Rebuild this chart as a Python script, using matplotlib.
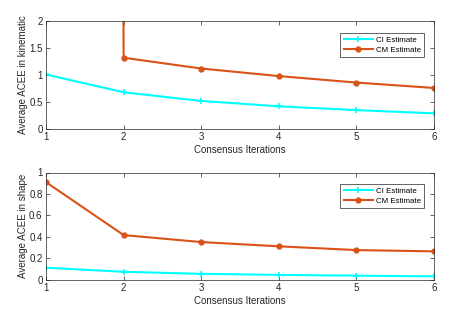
import numpy as np
import matplotlib
matplotlib.use('Agg')
import matplotlib.pyplot as plt

plt.rcParams['font.family'] = ['Liberation Sans', 'DejaVu Sans']
plt.rcParams['font.size'] = 7

iters = [1, 2, 3, 4, 5, 6]

# kinematic
ci_kin = [1.01, 0.68, 0.52, 0.42, 0.35, 0.29]
cm_kin = [500.0, 1.32, 1.12, 0.98, 0.86, 0.76]

# shape
ci_shape = [0.11, 0.072, 0.053, 0.043, 0.036, 0.029]
cm_shape = [0.91, 0.415, 0.35, 0.31, 0.275, 0.263]

cyan = (0, 1, 1)
orange = (0.85, 0.325, 0.098)

fig = plt.figure(figsize=(4.57, 3.19), dpi=100)
ax1 = fig.add_axes([46/457, 1 - 129/319, 388/457, 108/319])
ax2 = fig.add_axes([46/457, 1 - 279.5/319, 388/457, 107/319])

def style(ax, ylim, yticks, ylabel):
    ax.set_xlim(1, 6)
    ax.set_ylim(*ylim)
    ax.set_xticks(iters)
    ax.set_yticks(yticks)
    ax.set_yticklabels([('%g' % v) for v in yticks])
    ax.tick_params(direction='in', length=3, width=0.5, colors='#262626',
                   labelcolor='#262626', top=True, right=True, pad=2.5)
    for s in ax.spines.values():
        s.set_linewidth(0.5)
        s.set_color('#262626')
    ax.set_xlabel('Consensus Iterations', color='#262626', labelpad=2)
    ax.set_ylabel(ylabel, color='#262626', labelpad=1)
    leg = ax.legend(loc='upper right', fancybox=False, edgecolor='#262626',
                    framealpha=1, handlelength=3.7, borderpad=0.4,
                    labelspacing=0.3, handletextpad=0.4,
                    bbox_to_anchor=(0.985, 0.926), fontsize=5.7)
    leg.get_frame().set_linewidth(0.5)

ax1.plot(iters, ci_kin, color=cyan, lw=1.5, marker='+', ms=4, mew=1.2, label='CI Estimate')
ax1.plot(iters, cm_kin, color=orange, lw=1.5, marker='o', ms=3.5, label='CM Estimate')
style(ax1, (0, 2), [0, 0.5, 1, 1.5, 2], 'Average ACEE in kinematic')

ax2.plot(iters, ci_shape, color=cyan, lw=1.5, marker='+', ms=4, mew=1.2, label='CI Estimate')
ax2.plot(iters, cm_shape, color=orange, lw=1.5, marker='o', ms=3.5, label='CM Estimate')
style(ax2, (0, 1), [0, 0.2, 0.4, 0.6, 0.8, 1], 'Average ACEE in shape')

fig.savefig('out.png', dpi=100)
